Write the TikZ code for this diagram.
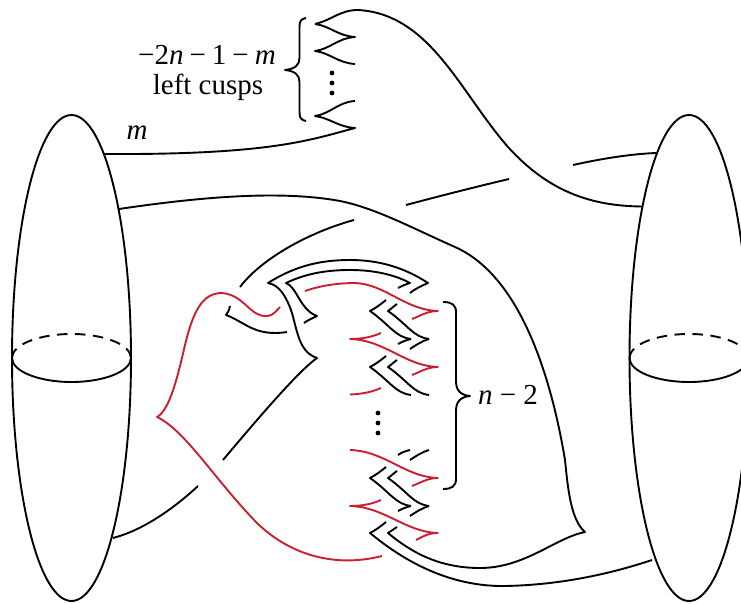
\documentclass[tikz,border=0pt]{standalone}
\usepackage{fontspec}
\setmainfont{Liberation Serif}
\definecolor{legred}{RGB}{200,32,48}
\tikzset{
 strand/.style={draw=black,line width=1.9pt,line join=round},
 rstrand/.style={draw=legred,line width=1.9pt,line join=round},
 lab/.style={font=\fontsize{29}{32}\selectfont,inner sep=0pt,align=center},
 dotmark/.style={fill=black,draw=none}
}
\newcommand{\cc}[3]{.. controls #1 and #2 .. #3}
\begin{document}
\begin{tikzpicture}[x=1pt,y=-1pt]
\clip (0,0) rectangle (741,604);
% handles
\draw[strand] (71.5,358) ellipse [x radius=59.5pt,y radius=243pt];
\draw[strand] (689,358) ellipse [x radius=59.5pt,y radius=243pt];
\foreach \cx in {71.5,689}{
 \draw[strand] (\cx+59.5,358) arc[start angle=0,end angle=-180,x radius=59.5pt,y radius=24pt];
 \draw[strand,dash pattern=on 10.5pt off 7.5pt] (\cx-59.5,358) arc[start angle=180,end angle=0,x radius=59.5pt,y radius=24pt];
}
% top cusps
\draw[strand] (315,24) \cc{(332,20)}{(340,10)}{(358,10)} \cc{(430,14)}{(460,92)}{(508,147)} \cc{(548,191)}{(590,206)}{(642,206.5)};
\draw[strand] (315,24) \cc{(330,26)}{(338,36)}{(355,37)} \cc{(338,38)}{(330,49)}{(315,51)} \cc{(330,53)}{(338,63)}{(355,64)};
\draw[strand] (355,101) \cc{(338,102)}{(330,114)}{(315,116)} \cc{(330,118)}{(338,127)}{(355,128)} \cc{(310,140)}{(270,155)}{(104,154)};
% long strands
\draw[strand] (573,165) \cc{(600,159)}{(630,154)}{(656,153)};
\draw[strand] (406,205) \cc{(440,196)}{(475,187)}{(509,179)};
\draw[strand] (240,287) \cc{(262,258)}{(310,232)}{(354,220)};
\draw[strand] (119,209) \cc{(200,197)}{(280,190)}{(340,201)} \cc{(375,208)}{(410,227)}{(455,247)} \cc{(518,275)}{(550,370)}{(565,460)} \cc{(568,490)}{(571,520)}{(585,532)} \cc{(555,538)}{(525,568)}{(480,568)} \cc{(440,568)}{(412,553)}{(388,533)} \cc{(391,531)}{(394,529)}{(397,527)};
\draw[strand] (386,522) \cc{(381,526)}{(376,530)}{(370,533)} \cc{(392,551)}{(440,587)}{(505,586)} \cc{(560,585)}{(610,574)}{(652,560)};
% arches
\draw[strand] (398,288) \cc{(402,286)}{(406,284)}{(410,283)} \cc{(395,275)}{(375,270)}{(350,270)} \cc{(325,270)}{(305,274)}{(286,283)} \cc{(297,287)}{(300,310)}{(317,316)} \cc{(313,318)}{(308,320)}{(304,323)};
\draw[strand] (410,293) \cc{(415,289)}{(421,286)}{(428,283)} \cc{(405,268)}{(380,260)}{(350,260)} \cc{(320,260)}{(295,266)}{(268,283)} \cc{(280,285)}{(287,298)}{(292,313)} \cc{(298,335)}{(300,352)}{(317,358)} \cc{(300,370)}{(265,410)}{(223,460)};
\draw[strand] (230,306) \cc{(229,310)}{(228,313)}{(226,315)} \cc{(245,322)}{(255,337)}{(287,332)};
\draw[strand] (198,486) \cc{(170,512)}{(140,531)}{(113,538)};
% chevrons
\foreach \dy/\full in {0/1,56/0,167/1}{
 \begin{scope}[yshift=-\dy pt]
 \draw[strand] (386,300) \cc{(381,304)}{(376,308)}{(370,311)} \cc{(390,325)}{(395,337)}{(411,339)};
 \draw[strand] (397,304) \cc{(394,306)}{(391,309)}{(388,311)} \cc{(408,325)}{(413,337)}{(429,339)};
 \ifnum\full=1
 \draw[strand] (411,339) \cc{(406,340)}{(402,342)}{(398,344)};
 \draw[strand] (429,339) \cc{(422,341)}{(416,345)}{(410,349)};
 \fi
 \end{scope}
}
\draw[strand] (398,455) \cc{(402,452)}{(406,451)}{(410,450)};
\draw[strand] (410,460) \cc{(416,456)}{(422,452)}{(429,450)};
% red
\draw[rstrand] (280,307) \cc{(277,310)}{(274,315)}{(268,316)} \cc{(250,318)}{(245,295)}{(222,293)} \cc{(202,293)}{(193,312)}{(185,345)} \cc{(178,375)}{(170,410)}{(157,417)} \cc{(185,430)}{(215,480)}{(257,523)} \cc{(290,555)}{(335,568)}{(382,556)};
\draw[rstrand] (305,291) \cc{(325,284)}{(345,283)}{(355,283)} \cc{(385,284)}{(405,310)}{(438,311)} \cc{(428,311)}{(422,315)}{(412,319)};
\draw[rstrand] (381,333) \cc{(372,337)}{(362,339)}{(350,339)} \cc{(385,340)}{(405,366)}{(438,367)} \cc{(428,367)}{(422,371)}{(412,375)};
\draw[rstrand] (350,394.5) \cc{(362,394)}{(372,392)}{(381,388)};
\draw[rstrand] (350,450) \cc{(385,451)}{(405,477)}{(438,478)} \cc{(428,478)}{(422,482)}{(412,486)};
\draw[rstrand] (381,500) \cc{(372,504)}{(362,506)}{(350,506)} \cc{(385,507)}{(405,532)}{(438,533)} \cc{(428,533)}{(424,536)}{(416,540)};
% dots
\foreach \py in {73,83,93}{\fill[dotmark] (332,\py) circle (2.4pt);}
\foreach \py in {413,423,433}{\fill[dotmark] (378,\py) circle (2.4pt);}
% braces
\draw[strand] (306,18) .. controls (301,19) and (299.5,21) .. (299.5,27) -- (299.5,58) .. controls (299.5,65) and (295,69) .. (285,70) .. controls (295,71) and (299.5,75) .. (299.5,82) -- (299.5,112) .. controls (299.5,118) and (301,120) .. (306,121);
\draw[strand] (443,302) .. controls (452,302) and (456,305) .. (456,312) -- (456,381) .. controls (456,390) and (460,395) .. (470,396) .. controls (460,397) and (456,402) .. (456,411) -- (456,479) .. controls (456,486) and (452,489) .. (443,489);
% labels
\node[lab] (count) at (207,55) {−2\textit{n}\hspace{6pt}−\hspace{6pt}1\hspace{6pt}−\hspace{6pt}\textit{m}};
\node[lab] (cusps) at (208,87) {left cusps};
\node[lab] (mlabel) at (137,133) {\textit{m}};
\node[lab] (nlabel) at (508,395) {\textit{n} − 2};
\end{tikzpicture}
\end{document}
